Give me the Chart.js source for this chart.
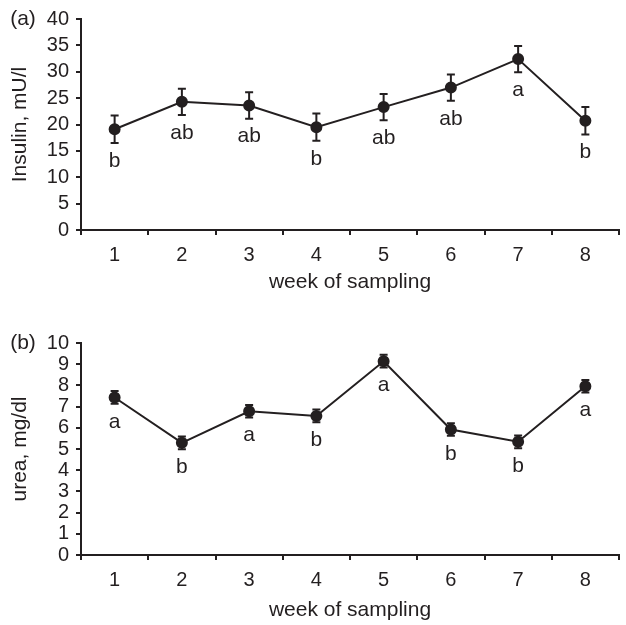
<!DOCTYPE html>
<html><head><meta charset="utf-8">
<script src="https://cdn.jsdelivr.net/npm/chart.js@4"></script>
<style>body{margin:0;background:#fff}canvas{position:absolute;left:0}</style>
</head><body>
<canvas id="cA" width="626" height="300" style="top:0"></canvas>
<canvas id="cB" width="626" height="325" style="top:300px"></canvas>
<script>
const semanas=["1","2","3","4","5","6","7","8"];
const insulina=[19.1,24.3,23.6,19.5,23.3,27.0,32.4,20.7];
const insulinaErro=[2.6,2.5,2.5,2.6,2.5,2.5,2.5,2.6];
const insulinaLetras=["b","ab","ab","b","ab","ab","a","b"];
const ureia=[7.43,5.29,6.78,6.56,9.14,5.92,5.34,7.96];
const ureiaErro=[0.3,0.3,0.3,0.3,0.3,0.3,0.3,0.3];
const ureiaLetras=["a","b","a","b","a","b","b","a"];
const cor="#231f20";
const fonte="'Liberation Sans', Arial, sans-serif";

const extras={id:"extras",
beforeDatasetsDraw(chart,args,o){
let ctx=chart.ctx,y=chart.scales.y,meta=chart.getDatasetMeta(0),vals=chart.data.datasets[0].data;
ctx.save();ctx.strokeStyle=cor;ctx.lineWidth=2;
meta.data.forEach((p,i)=>{
let t=y.getPixelForValue(vals[i]+o.erro[i]),b=y.getPixelForValue(vals[i]-o.erro[i]);
ctx.beginPath();ctx.moveTo(p.x,t);ctx.lineTo(p.x,b);
ctx.moveTo(p.x-4,t);ctx.lineTo(p.x+4,t);
ctx.moveTo(p.x-4,b);ctx.lineTo(p.x+4,b);ctx.stroke();
});
ctx.restore();
},
afterDatasetsDraw(chart,args,o){
let ctx=chart.ctx,y=chart.scales.y,meta=chart.getDatasetMeta(0),vals=chart.data.datasets[0].data;
ctx.save();ctx.fillStyle=cor;ctx.font="21px "+fonte;ctx.textAlign="center";ctx.textBaseline="middle";
meta.data.forEach((p,i)=>{
ctx.fillText(o.letras[i],p.x,y.getPixelForValue(vals[i]-o.erro[i])+18);
});
ctx.fillText(o.painel,23,chart.chartArea.top);
ctx.restore();
}};

function montar(id,valores,erro,letras,painel,titulo,max,passo,topo,padTitulo){
new Chart(document.getElementById(id),{type:"line",
data:{labels:semanas,datasets:[{data:valores,borderColor:cor,borderWidth:2,pointRadius:5,pointBackgroundColor:cor,pointBorderColor:cor,pointHoverRadius:5,tension:0}]},
options:{responsive:false,animation:false,events:[],
layout:{padding:{top:topo,left:0,right:0,bottom:0}},
plugins:{legend:{display:false},tooltip:{enabled:false},extras:{erro,letras,painel}},
scales:{
x:{offset:true,afterFit:s=>{s.height=70},
grid:{offset:true,drawOnChartArea:false,tickLength:5,color:cor,lineWidth:2},
border:{color:cor,width:2},
ticks:{color:cor,font:{family:fonte,size:20},padding:8,autoSkip:false,maxRotation:0},
title:{display:true,text:"week of sampling",color:cor,font:{family:fonte,size:21},padding:{top:0,bottom:padTitulo}}},
y:{min:0,max:max,afterFit:s=>{s.width=81},
grid:{drawOnChartArea:false,tickLength:5,color:cor,lineWidth:2},
border:{color:cor,width:2},
ticks:{stepSize:passo,color:cor,font:{family:fonte,size:20},padding:7,autoSkip:false},
title:{display:true,text:titulo,color:cor,font:{family:fonte,size:21},padding:{top:8,bottom:0}}}
}},
plugins:[extras]});
}
montar("cA",insulina,insulinaErro,insulinaLetras,"(a)","Insulin, mU/l",40,5,19,5);
montar("cB",ureia,ureiaErro,ureiaLetras,"(b)","urea, mg/dl",10,1,43,2);
</script>
</body></html>
